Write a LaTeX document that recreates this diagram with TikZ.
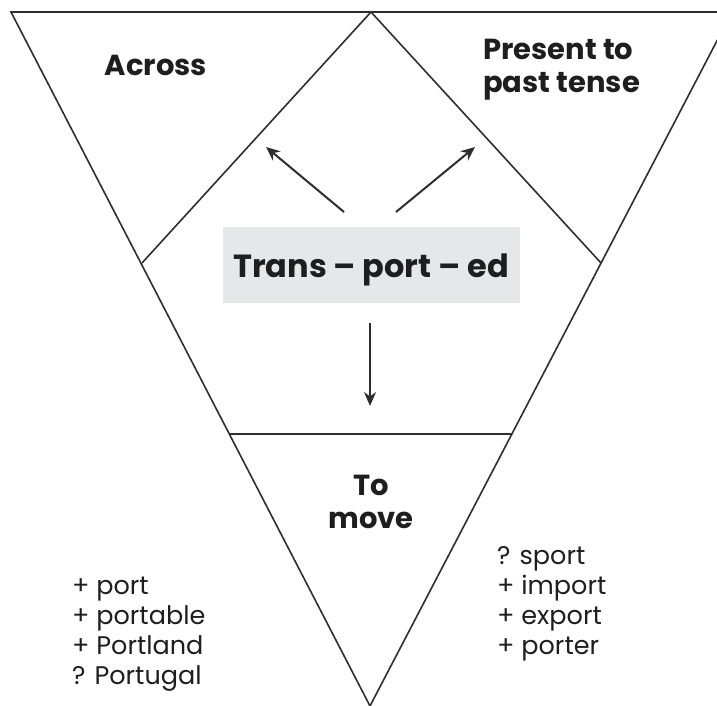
\documentclass[tikz,border=0pt]{standalone}
\usepackage{fontspec}
\setmainfont{Poppins}
\usetikzlibrary{arrows.meta}
\definecolor{linec}{HTML}{2E2E2E}
\definecolor{boxgray}{HTML}{E6E7E9}
\definecolor{textc}{HTML}{1E1E1E}
\tikzset{
  edge/.style={draw=linec, line width=1.6pt},
  arr/.style={draw=linec, line width=2pt, -{Stealth[length=14pt,width=12pt]}},
  title/.style={font=\bfseries\fontsize{29}{33}\selectfont, text=textc, inner sep=0pt},
  listtxt/.style={font=\fontsize{25.5}{30}\selectfont, text=textc, inner sep=0pt, align=left, anchor=base west},
}
\begin{document}
\begin{tikzpicture}[x=1pt,y=-1pt]
\useasboundingbox (0,0) rectangle (717,706);
\clip (0,0) rectangle (717,706);
% gray box
\fill[boxgray] (223,227) rectangle (520,303);
% outer triangle
\coordinate (tl) at (11,12);
\coordinate (tr) at (732,12);
\coordinate (bot) at (370,706);
\coordinate (dtop) at (371,12);
\coordinate (dl) at (142,263);
\coordinate (dr) at (601,263);
\coordinate (hl) at (230,434);
\coordinate (hr) at (512,434);
\draw[edge, line join=miter] (tr) -- (tl) -- (bot) -- cycle;
\draw[edge] (dl) -- (dtop) -- (dr);
\draw[edge] (hl) -- (hr);
% texts
\node[title, anchor=base] (across) at (156,76) {Across};
\node[title, anchor=base west, align=left] (present) at (483,93) {Present to\\past tense};
\node[title, anchor=base, font=\bfseries\fontsize{32}{36}\selectfont] (trans) at (371,277) {Trans – port – ed};
\node[title, anchor=base, align=center] (tomove) at (371,528) {To\\move};
\node[listtxt] (leftlist) at (72,684) {+ port\\+ portable\\+ Portland\\? Portugal};
\node[listtxt] (rightlist) at (497,654) {? sport\\+ import\\+ export\\+ porter};
% arrows
\coordinate (a1s) at (344,212);
\coordinate (a1e) at (266,147);
\coordinate (a2s) at (396,212);
\coordinate (a2e) at (475,147);
\coordinate (a3s) at (370,323);
\coordinate (a3e) at (370,406);
\draw[arr] (a1s) -- (a1e);
\draw[arr] (a2s) -- (a2e);
\draw[arr] (a3s) -- (a3e);
\end{tikzpicture}
\end{document}
